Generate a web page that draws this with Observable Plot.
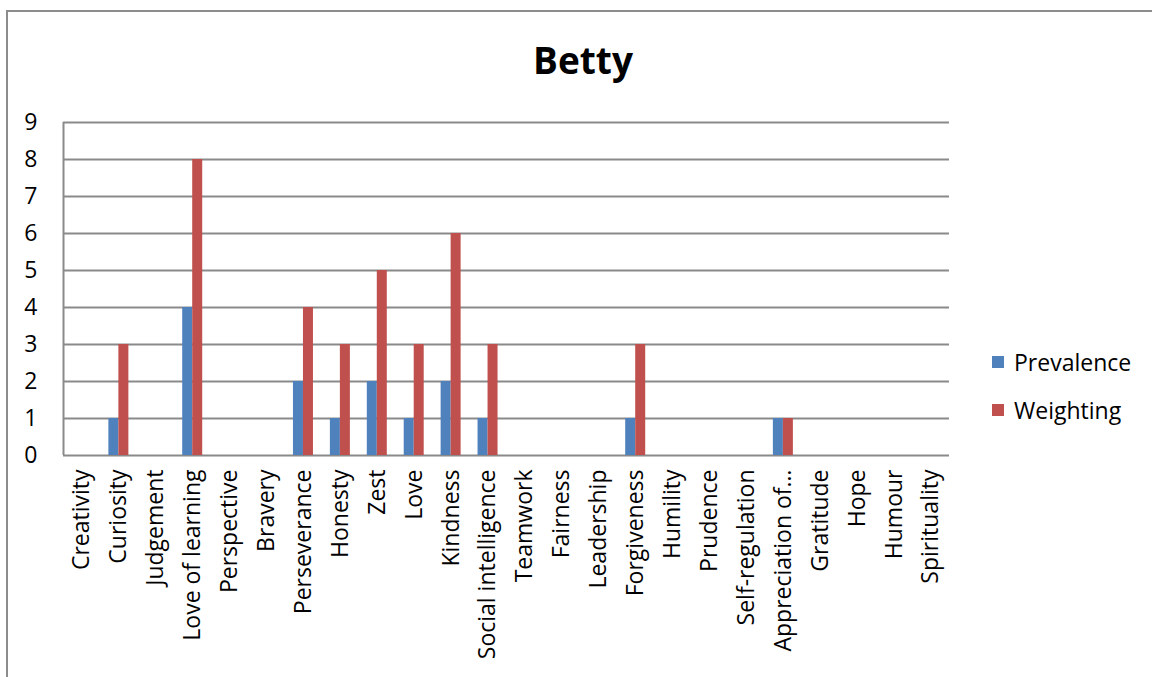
<!DOCTYPE html>
<html>
<head>
<meta charset="utf-8">
<script src="https://cdn.jsdelivr.net/npm/d3@7"></script>
<script src="https://cdn.jsdelivr.net/npm/@observablehq/plot@0.6"></script>
<style>
  body { margin: 0; background: #fff; }
  #chart { position: relative; width: 1152px; height: 677px; overflow: hidden; font-family: "Open Sans", sans-serif; }
  #frame { position: absolute; left: 6px; top: 10px; width: 1300px; height: 800px; border-left: 2px solid #8c8c8c; border-top: 2px solid #8c8c8c; }
  #plot { position: absolute; left: 0; top: 0; }
  #title { position: absolute; left: 0; width: 1166px; top: 34px; text-align: center; font-weight: bold; font-size: 37px; line-height: 52px; color: #000; }
  #legend { position: absolute; left: 992px; top: 346px; font-size: 23px; color: #000; }
  .item { display: flex; align-items: center; height: 32px; margin-bottom: 16px; }
  .swatch { width: 12px; height: 12px; margin-right: 10px; }
</style>
</head>
<body>
<div id="chart">
  <div id="frame"></div>
  <div id="plot"></div>
  <div id="title">Betty</div>
  <div id="legend"></div>
</div>
<script>
// Character strengths shown along the x axis
const strengths = [
  "Creativity", "Curiosity", "Judgement", "Love of learning", "Perspective", "Bravery",
  "Perseverance", "Honesty", "Zest", "Love", "Kindness", "Social intelligence",
  "Teamwork", "Fairness", "Leadership", "Forgiveness", "Humility", "Prudence",
  "Self-regulation", "Appreciation of beauty", "Gratitude", "Hope", "Humour", "Spirituality"
];
const prevalence = [0, 1, 0, 4, 0, 0, 2, 1, 2, 1, 2, 1, 0, 0, 0, 1, 0, 0, 0, 1, 0, 0, 0, 0];
const weighting  = [0, 3, 0, 8, 0, 0, 4, 3, 5, 3, 6, 3, 0, 0, 0, 3, 0, 0, 0, 1, 0, 0, 0, 0];
const series = ["Prevalence", "Weighting"];
const colors = ["#4F81BD", "#C0504D"];
const yTicks = [0, 1, 2, 3, 4, 5, 6, 7, 8, 9];

const prevalenceRows = strengths.map((s, i) => ({strength: s, series: series[0], value: prevalence[i]}));
const weightingRows = strengths.map((s, i) => ({strength: s, series: series[1], value: weighting[i]}));

// Shorten long category names the way the axis shows them
const shortLabel = s => s === "Appreciation of beauty" ? "Appreciation of…" : s;

const width = 1152, marginLeft = 63, marginRight = 203;
const band = (width - marginLeft - marginRight) / strengths.length;
const barW = 10; // each bar in a pair

const gridColor = "#8a8a8a";
const plot = Plot.plot({
  width,
  height: 677,
  marginLeft,
  marginRight,
  marginTop: 122,
  marginBottom: 222,
  style: {fontFamily: "'Open Sans', sans-serif", fontSize: "23px", color: "#000", background: "transparent"},
  x: {domain: strengths, padding: 0, round: false, label: null},
  y: {domain: [0, 9], label: null},
  color: {domain: series, range: colors},
  marks: [
    Plot.ruleY(yTicks, {y: d => d, stroke: gridColor, strokeWidth: 2}),
    Plot.barY(prevalenceRows, {
      x: "strength", y: "value", fill: "series",
      insetLeft: band / 2 - barW, insetRight: band / 2
    }),
    Plot.barY(weightingRows, {
      x: "strength", y: "value", fill: "series",
      insetLeft: band / 2, insetRight: band / 2 - barW
    }),
    Plot.axisY({ticks: yTicks, tickSize: 0, tickPadding: 26, fontSize: 23, label: null}),
    Plot.axisX({
      anchor: "bottom", tickRotate: -90, tickSize: 0, tickPadding: 14, fontSize: 23,
      tickFormat: shortLabel, label: null
    }),
    Plot.ruleX([strengths[0]], {dx: -band / 2, y1: 0, y2: 9, stroke: gridColor, strokeWidth: 2})
  ]
});
document.getElementById("plot").appendChild(plot);

// Legend swatches
const legend = document.getElementById("legend");
series.forEach((name, i) => {
  const item = document.createElement("div");
  item.className = "item";
  const sw = document.createElement("div");
  sw.className = "swatch";
  sw.style.background = colors[i];
  const label = document.createElement("span");
  label.textContent = name;
  item.appendChild(sw);
  item.appendChild(label);
  legend.appendChild(item);
});
</script>
</body>
</html>
